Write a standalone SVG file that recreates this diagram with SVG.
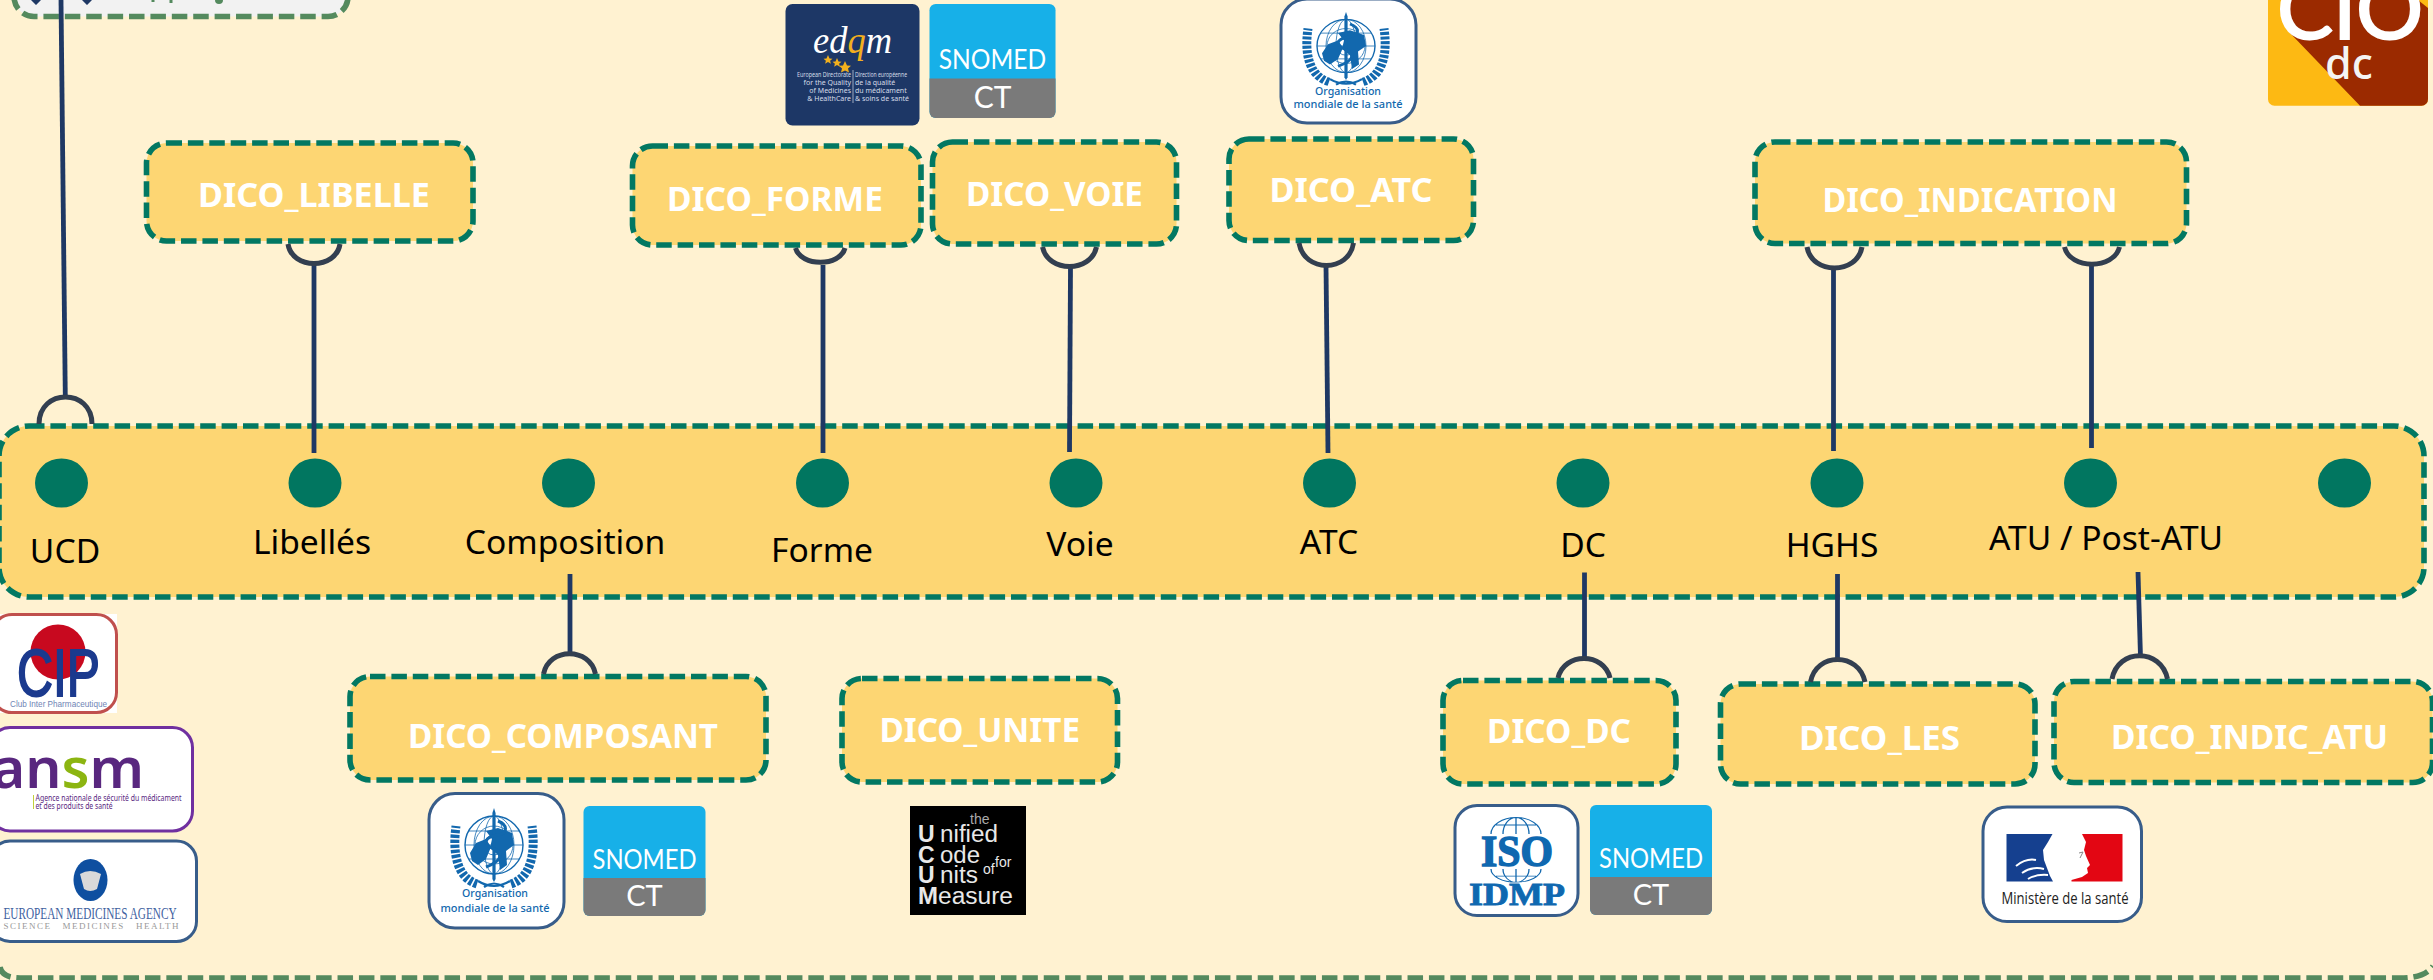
<svg xmlns="http://www.w3.org/2000/svg" xmlns:xlink="http://www.w3.org/1999/xlink" width="2433" height="980" viewBox="0 0 2433 980">
<style>
.box{fill:#fdd673;stroke:#027862;stroke-width:5.6;stroke-dasharray:15.5 5.9}
.t{font-family:"Noto Sans","Open Sans",sans-serif;font-weight:700;font-size:34px;fill:#fff;text-anchor:start}
.l{font-family:"Noto Sans","Open Sans",sans-serif;font-size:33.6px;fill:#000;text-anchor:middle}
.dot{fill:#017660}
.line{fill:none;stroke:#1f3864;stroke-width:4.8}
.arc{fill:none;stroke:#333f50;stroke-width:5}
.card{fill:#fff;stroke:#385d8a;stroke-width:3}
.sno{font-family:"Lato","Noto Sans",sans-serif;font-weight:400;fill:#fff;text-anchor:middle}
.who{font-family:"Noto Sans",sans-serif;font-weight:500;fill:#1268ae;text-anchor:middle;font-size:11.5px}
.uc{font-family:"Liberation Sans",sans-serif;font-size:23px;fill:#e8e8e8}
.ed{font-family:"Noto Sans",sans-serif;font-size:7px;fill:#d6dce8}
</style>
<defs>
<g id="emblem">
<g fill="none" stroke="#1268ae">
<circle r="29" stroke-width="1.4"/><circle r="19" stroke-width=".8"/><circle r="10" stroke-width=".8"/>
<ellipse rx="10" ry="29" stroke-width=".8"/><ellipse rx="20" ry="29" stroke-width=".8"/>
<path d="M-29 0H29M-25-14H25M-25 14H25" stroke-width=".8"/>
<path d="M-17 39C-36 33-42 10-38-19" stroke-width="9" stroke-dasharray="3.4 1.6"/>
<path d="M17 39C36 33 42 10 38-19" stroke-width="9" stroke-dasharray="3.4 1.6"/>
<path d="M-16 36Q0 46 16 36M-10 42Q0 35 10 42" stroke-width="2.2"/>
</g>
<path d="M-24 8L-18-2-8-6-3 2-8 14-16 20-22 16ZM-8-14L4-17 18-12 20 0 12 6 13 20 6 25 4 10 -4 3-2-6Z" fill="#1268ae"/>
<path d="M-1.6-32L0-37 1.6-32V34L0 37-1.6 34Z" fill="#1268ae"/>
<path d="M-8 22C8 16 10 8 0 4-12-1-10-8 4-10 14-12 14-20 4-24" fill="none" stroke="#1268ae" stroke-width="3"/>
</g>
<g id="snomed">
<rect width="122" height="110" rx="6" fill="#17b0e8"/>
<path d="M0 72H122V104A6 6 0 0 1 116 110H6A6 6 0 0 1 0 104Z" fill="#7a7a7a"/>
<text class="sno" x="61" y="63" font-size="26" textLength="104" lengthAdjust="spacingAndGlyphs">SNOMED</text>
<text class="sno" x="61" y="100" font-size="29">CT</text>
</g>
<g id="isoglobe" fill="none" stroke="#1268ae" stroke-width="1.3">
<path d="M-25 0A25 22 0 0 1 25 0M-13 0A13 22 0 0 1 13 0M0-22V0M-20-12H20"/>
</g>
</defs>
<rect width="2433" height="980" fill="#fff2d1"/>

<g id="top-box">
<rect x="14" y="-40" width="334" height="56.5" rx="20" fill="#f2f2f2" stroke="#548a5e" stroke-width="5.600" stroke-dasharray="15.500 5.900"/>
<path d="M31 0L36 5 41 0ZM82 0L87 5 92 0Z" fill="#1f3864"/>
<path d="M153 0V2M171 0V3" stroke="#548a5e" stroke-width="3" fill="none"/>
<circle cx="219" cy="0" r="4" fill="#548a5e"/>
</g>
<g id="outer-frame">
<path d="M0 967Q2 978 20 978H2400Q2425 978 2433 966" fill="none" stroke="#548a5e" stroke-width="5.600" stroke-dasharray="15.500 5.900"/>
</g>

<g id="band">
<rect x="-1" y="426" width="2425" height="171" rx="30" class="box"/>
<ellipse class="dot" cx="61.500" cy="483" rx="26.500" ry="24.500"/>
<ellipse class="dot" cx="315" cy="483" rx="26.500" ry="24.500"/>
<ellipse class="dot" cx="568.500" cy="483" rx="26.500" ry="24.500"/>
<ellipse class="dot" cx="822.500" cy="483" rx="26.500" ry="24.500"/>
<ellipse class="dot" cx="1076" cy="483" rx="26.500" ry="24.500"/>
<ellipse class="dot" cx="1329.500" cy="483" rx="26.500" ry="24.500"/>
<ellipse class="dot" cx="1583" cy="483" rx="26.500" ry="24.500"/>
<ellipse class="dot" cx="1837" cy="483" rx="26.500" ry="24.500"/>
<ellipse class="dot" cx="2090.500" cy="483" rx="26.500" ry="24.500"/>
<ellipse class="dot" cx="2344.500" cy="483" rx="26.500" ry="24.500"/>
<text class="l" x="65" y="563">UCD</text>
<text class="l" x="312" y="554">Libellés</text>
<text class="l" x="565" y="554">Composition</text>
<text class="l" x="822" y="562">Forme</text>
<text class="l" x="1080" y="556">Voie</text>
<text class="l" x="1329" y="554">ATC</text>
<text class="l" x="1583" y="557">DC</text>
<text class="l" x="1832" y="557">HGHS</text>
<text class="l" x="2106" y="550">ATU / Post-ATU</text>
</g>

<g id="dico-libelle"><rect class="box" x="146.500" y="143" width="326.500" height="98" rx="20"/><text class="t" x="198" y="207" textLength="232" lengthAdjust="spacingAndGlyphs">DICO_LIBELLE</text></g>
<g id="dico-forme"><rect class="box" x="632.500" y="146" width="288.500" height="99" rx="20"/><text class="t" x="667" y="210.500" textLength="216" lengthAdjust="spacingAndGlyphs">DICO_FORME</text></g>
<g id="dico-voie"><rect class="box" x="932.500" y="142" width="244" height="102" rx="20"/><text class="t" x="966" y="206" textLength="177" lengthAdjust="spacingAndGlyphs">DICO_VOIE</text></g>
<g id="dico-atc"><rect class="box" x="1229" y="139" width="244.500" height="101.500" rx="20"/><text class="t" x="1269.500" y="202" textLength="163" lengthAdjust="spacingAndGlyphs">DICO_ATC</text></g>
<g id="dico-indication"><rect class="box" x="1755" y="142" width="431.500" height="101.500" rx="20"/><text class="t" x="1822.500" y="211.500" textLength="295" lengthAdjust="spacingAndGlyphs">DICO_INDICATION</text></g>
<g id="dico-composant"><rect class="box" x="350" y="676.500" width="416" height="103.500" rx="20"/><text class="t" x="408" y="748" textLength="310" lengthAdjust="spacingAndGlyphs">DICO_COMPOSANT</text></g>
<g id="dico-unite"><rect class="box" x="842" y="678.500" width="275.500" height="103.500" rx="20"/><text class="t" x="879.500" y="741.500" textLength="200.500" lengthAdjust="spacingAndGlyphs">DICO_UNITE</text></g>
<g id="dico-dc"><rect class="box" x="1443" y="680.500" width="233" height="103.500" rx="20"/><text class="t" x="1487" y="743" textLength="144" lengthAdjust="spacingAndGlyphs">DICO_DC</text></g>
<g id="dico-les"><rect class="box" x="1720.500" y="684" width="314.500" height="100" rx="20"/><text class="t" x="1799" y="749.500" textLength="161" lengthAdjust="spacingAndGlyphs">DICO_LES</text></g>
<g id="dico-indic-atu"><rect class="box" x="2054" y="681.500" width="378.500" height="101" rx="20"/><text class="t" x="2111" y="749" textLength="277" lengthAdjust="spacingAndGlyphs">DICO_INDIC_ATU</text></g>

<g id="connectors">
<path class="line" d="M61 0L65.300 397"/><path class="arc" d="M39 424C39 388 92 388 92 424"/>
<path class="line" d="M314 263V453"/><path class="arc" d="M288 244C292 270 336 270 340 244"/>
<path class="line" d="M823 265V453"/><path class="arc" d="M795.500 248C801 267 840 267 845 248"/>
<path class="line" d="M1070.500 267L1069.500 452"/><path class="arc" d="M1042.500 247C1048 273 1091 273 1096.500 247"/>
<path class="line" d="M1326 266L1328 453"/><path class="arc" d="M1299 243C1304 273 1349 273 1353.500 243"/>
<path class="line" d="M1833.500 268V451"/><path class="arc" d="M1807 247C1812 275 1857 275 1862 247"/>
<path class="line" d="M2091.500 265V448"/><path class="arc" d="M2064.500 247C2070 270 2114 270 2119.500 247"/>
<path class="line" d="M570 574V655"/><path class="arc" d="M543.500 674C549 647 590 647 595.500 674"/>
<path class="line" d="M1584.500 572.500V659"/><path class="arc" d="M1558 678C1564 652 1604 652 1610 678"/>
<path class="line" d="M1837.500 574V661"/><path class="arc" d="M1810.500 682C1816 652 1859 652 1865 682"/>
<path class="line" d="M2138 572L2140.500 657"/><path class="arc" d="M2112 679C2118 648 2161 648 2167.500 679"/>
</g>

<g id="logo-edqm">
<rect x="785.500" y="4" width="134" height="121.500" rx="7" fill="#1d3766"/>
<text x="813" y="53" font-family="Liberation Serif,serif" font-style="italic" font-size="38" fill="#fff" textLength="79" lengthAdjust="spacingAndGlyphs">ed<tspan fill="#f2b01e">q</tspan>m</text>
<path d="M828 55l1.500 3.500 3 .2-2.400 2 .8 3-2.900-1.600-2.900 1.600.8-3-2.400-2 3-.2ZM837 58l1.500 3.500 3 .2-2.400 2 .8 3-2.900-1.600-2.900 1.600.8-3-2.400-2 3-.2ZM845 61l2 4.500 4 .3-3 2.600 1 4-4-2-4 2 1-4-3-2.600 4-.3Z" fill="#f2b01e"/>
<path d="M853 70V103" stroke="#d6dce8" stroke-width=".7"/>
<g class="ed">
<text x="851" y="76.500" text-anchor="end" textLength="54" lengthAdjust="spacingAndGlyphs">European Directorate</text>
<text x="851" y="84.500" text-anchor="end">for the Quality</text>
<text x="851" y="92.500" text-anchor="end">of Medicines</text>
<text x="851" y="100.500" text-anchor="end">&amp; HealthCare</text>
<text x="855" y="76.500" textLength="52" lengthAdjust="spacingAndGlyphs">Direction européenne</text>
<text x="855" y="84.500">de la qualité</text>
<text x="855" y="92.500">du médicament</text>
<text x="855" y="100.500">&amp; soins de santé</text>
</g>
</g>
<use id="logo-snomed-1" xlink:href="#snomed" href="#snomed" transform="translate(929.500 4) scale(1.033 1.036)"/>
<use id="logo-snomed-2" xlink:href="#snomed" href="#snomed" transform="translate(583.500 806)"/>
<use id="logo-snomed-3" xlink:href="#snomed" href="#snomed" transform="translate(1590 805)"/>

<g id="logo-who-1">
<rect class="card" x="1281" y="-1" width="135" height="124" rx="26"/>
<use xlink:href="#emblem" href="#emblem" transform="translate(1346 46) scale(1 .92)"/>
<text class="who" x="1348" y="95" textLength="66" lengthAdjust="spacingAndGlyphs">Organisation</text>
<text class="who" x="1348" y="107.500" textLength="109" lengthAdjust="spacingAndGlyphs">mondiale de la santé</text>
</g>
<g id="logo-who-2">
<rect class="card" x="429" y="793.500" width="135" height="134.500" rx="26"/>
<use xlink:href="#emblem" href="#emblem" transform="translate(494 845)"/>
<text class="who" x="495" y="897" textLength="66" lengthAdjust="spacingAndGlyphs">Organisation</text>
<text class="who" x="495" y="911.500" textLength="109" lengthAdjust="spacingAndGlyphs">mondiale de la santé</text>
</g>

<g id="logo-cio">
<path d="M2268 0H2428V99A6.500 6.500 0 0 1 2421.500 105.700H2274.500A6.500 6.500 0 0 1 2268 99Z" fill="#fdb913"/>
<path d="M2290 0V33L2360 105.700H2421.500A6.500 6.500 0 0 0 2428 99V8L2418 0Z" fill="#9b2a00"/>
<text x="2277 2333 2356" y="39" font-family="Lato,Noto Sans,sans-serif" font-size="84" fill="#fff" stroke="#fff" stroke-width="2">CIO</text>
<text x="2325" y="79" font-family="Noto Sans,sans-serif" font-weight="500" font-size="43" fill="#f4f4f4">dc</text>
</g>

<g id="logo-cip">
<rect x="-6" y="614" width="123" height="99" fill="#fff"/>
<rect x="-8" y="614.500" width="124.500" height="98" rx="20" fill="#fff" stroke="#c0504d" stroke-width="3"/>
<circle cx="58" cy="652" r="27.500" fill="#c8091f"/>
<text x="17" y="696" font-family="Liberation Sans,sans-serif" font-size="66" fill="#1b3a8e" textLength="83" lengthAdjust="spacingAndGlyphs" stroke="#1b3a8e" stroke-width="2">CIP</text>
<text x="10" y="706.500" font-family="Liberation Sans,sans-serif" font-size="9.500" fill="#6f85b5" textLength="97" lengthAdjust="spacingAndGlyphs">Club Inter Pharmaceutique</text>
</g>
<g id="logo-ansm">
<rect x="-10" y="727.500" width="202.500" height="103.500" rx="20" fill="#fff" stroke="#7030a0" stroke-width="3"/>
<text y="788" x="-8" font-family="Noto Sans,sans-serif" font-size="56" font-weight="600" fill="#59277f" textLength="152" lengthAdjust="spacingAndGlyphs">an<tspan fill="#8cb511">s</tspan>m</text>
<path d="M33.500 795V809" stroke="#c3cf3a" stroke-width="1"/>
<text x="35.500" y="800.500" font-family="Noto Sans,sans-serif" font-size="8" fill="#59277f" textLength="146" lengthAdjust="spacingAndGlyphs">Agence nationale de sécurité du médicament</text>
<text x="35.500" y="809" font-family="Noto Sans,sans-serif" font-size="8" fill="#59277f" textLength="77" lengthAdjust="spacingAndGlyphs">et des produits de santé</text>
</g>
<g id="logo-ema">
<rect class="card" x="-10" y="841" width="206.500" height="100.500" rx="20"/>
<ellipse cx="90.500" cy="880" rx="17" ry="21" fill="#0e4fa0"/>
<path d="M80 874Q90 868 101 874L97 889Q90 893 84 889Z" fill="#d9d9d9"/>
<text x="3.500" y="918.500" font-family="Liberation Serif,serif" font-size="17" fill="#41629f" textLength="173" lengthAdjust="spacingAndGlyphs">EUROPEAN MEDICINES AGENCY</text>
<text x="3.500" y="929" font-family="Liberation Serif,serif" font-size="9" fill="#999" textLength="175" lengthAdjust="spacing" style="white-space:pre">SCIENCE   MEDICINES   HEALTH</text>
</g>
<g id="logo-ucum">
<rect x="910" y="806" width="116" height="109" fill="#000"/>
<text class="uc" x="970" y="824" style="font-size:14px;fill:#aaa">the</text>
<text class="uc" x="918" y="841.500" font-weight="700">U</text><text class="uc" x="940" y="841.500" textLength="58" lengthAdjust="spacingAndGlyphs">nified</text>
<text class="uc" x="918" y="862.500" font-weight="700">C</text><text class="uc" x="940" y="862.500" textLength="40" lengthAdjust="spacingAndGlyphs">ode</text>
<text class="uc" x="983" y="874" style="font-size:14px">of</text><text class="uc" x="995" y="866.500" style="font-size:14px">for</text>
<text class="uc" x="918" y="883" font-weight="700">U</text><text class="uc" x="940" y="883" textLength="38" lengthAdjust="spacingAndGlyphs">nits</text>
<text class="uc" x="918" y="904" font-weight="700" textLength="20" lengthAdjust="spacingAndGlyphs">M</text><text class="uc" x="938" y="904" textLength="75" lengthAdjust="spacingAndGlyphs">easure</text>
</g>
<g id="logo-iso">
<rect class="card" x="1455" y="805.500" width="123" height="110" rx="22"/>
<use xlink:href="#isoglobe" href="#isoglobe" transform="translate(1516 834) scale(1 .75)"/>
<use xlink:href="#isoglobe" href="#isoglobe" transform="translate(1516 869) scale(1 -.6)"/>
<text x="1481" y="866" font-family="Liberation Serif,serif" font-weight="700" font-size="44" fill="#0f68b0" textLength="72" lengthAdjust="spacingAndGlyphs" stroke="#0f68b0" stroke-width="1.500">ISO</text>
<text x="1469" y="905" font-family="Liberation Serif,serif" font-weight="700" font-size="31" fill="#0f68b0" textLength="96" lengthAdjust="spacingAndGlyphs" stroke="#0f68b0" stroke-width=".8">IDMP</text>
</g>
<g id="logo-ministere">
<rect class="card" x="1983" y="807" width="158.500" height="114.500" rx="24"/>
<path d="M2006.500 834H2052.500L2048 842 2043 850 2044 860 2047 868 2050 876 2053 881.500H2006.500Z" fill="#15408f"/>
<path d="M2082 834H2122.500V881.500H2071.500V880L2082 877 2088 873 2087 868 2090 865 2086 856 2084 850 2086 842Z" fill="#e30613"/>
<path d="M2016 866Q2026 858 2036 860M2022 873Q2032 866 2044 869M2028 879Q2036 874 2048 875" fill="none" stroke="#fff" stroke-width="2"/>
<path d="M2079 853L2083 852 2080 858" fill="none" stroke="#888" stroke-width="1"/>
<text x="2065" y="904" font-family="Open Sans,Noto Sans,sans-serif" font-size="15.500" fill="#222" text-anchor="middle" textLength="127" lengthAdjust="spacingAndGlyphs">Ministère de la santé</text>
</g>
</svg>
